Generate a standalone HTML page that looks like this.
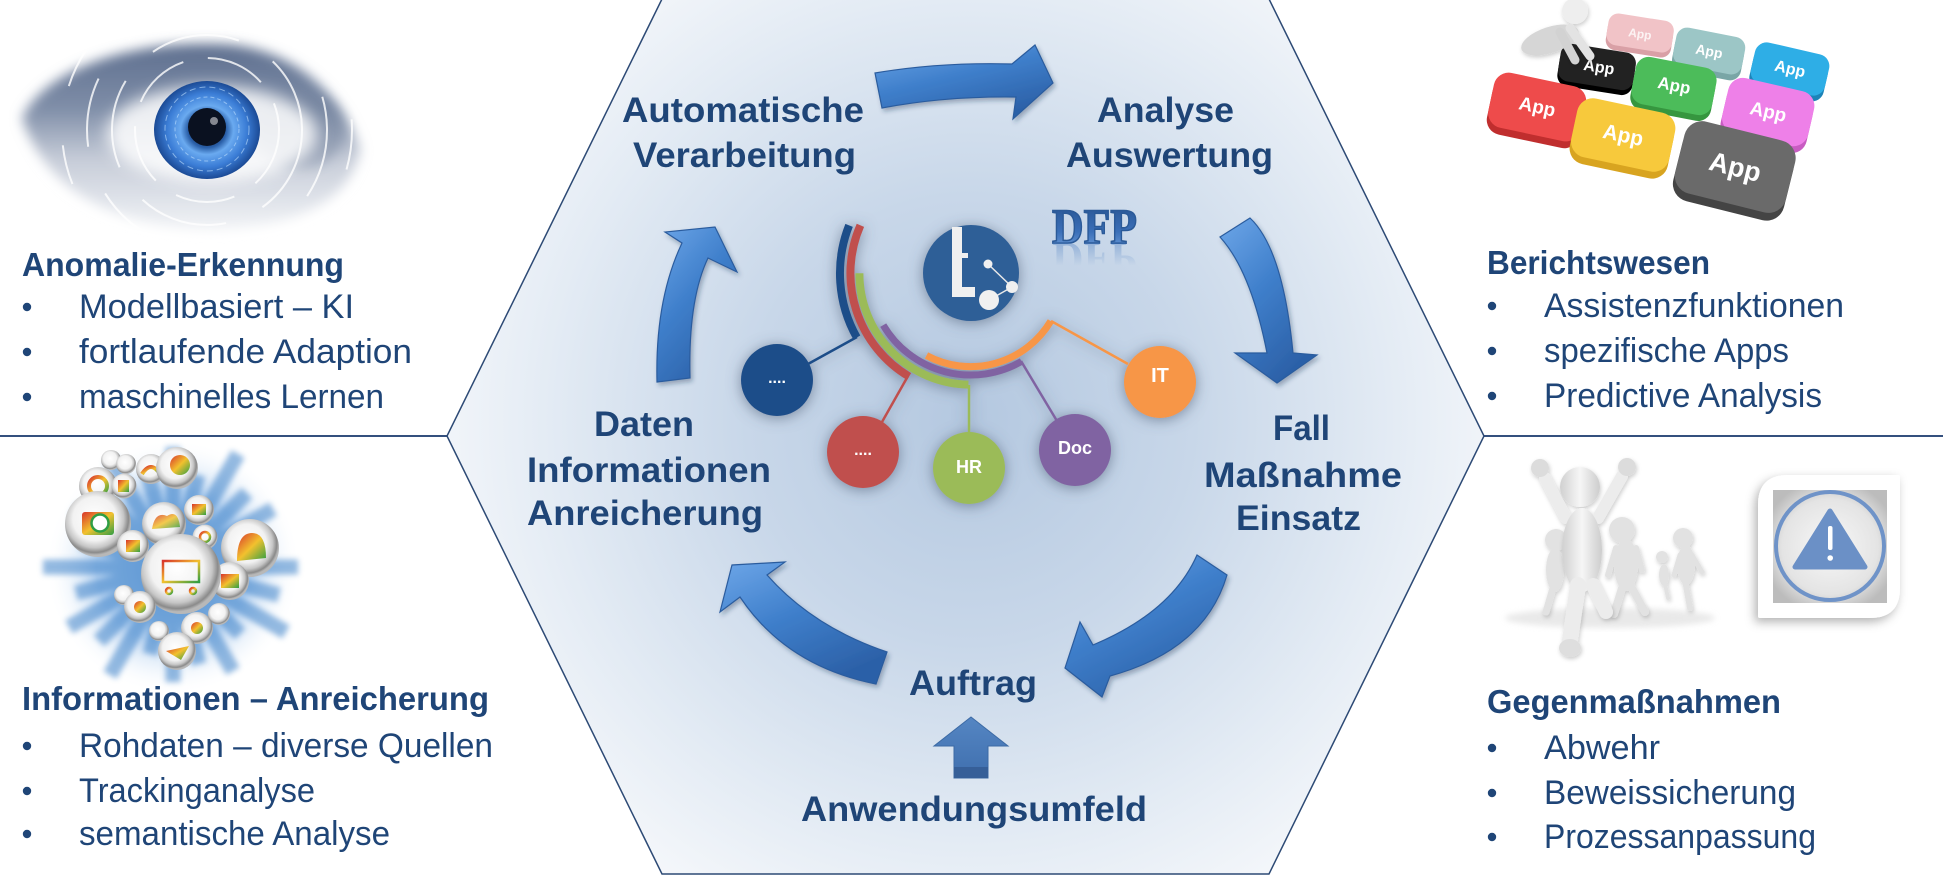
<!DOCTYPE html>
<html><head><meta charset="utf-8">
<style>
html,body{margin:0;padding:0;background:#fff;width:1943px;height:883px;overflow:hidden}
svg{display:block}
.t{font-family:"Liberation Sans",Arial,sans-serif;fill:#1f4577}
.b{font-weight:bold}
.w{font-family:"Liberation Sans",Arial,sans-serif;fill:#fff;font-weight:bold}
</style></head><body>
<svg width="1943" height="883" viewBox="0 0 1943 883" xmlns="http://www.w3.org/2000/svg">
<defs>
 <radialGradient id="hexg" cx="970" cy="420" r="560" gradientUnits="userSpaceOnUse">
  <stop offset="0" stop-color="#b4c8e0"/>
  <stop offset="0.4" stop-color="#c8d7e9"/>
  <stop offset="0.75" stop-color="#e3ebf4"/>
  <stop offset="1" stop-color="#f6f8fb"/>
 </radialGradient>
 <linearGradient id="ag" x1="0" y1="0" x2="0.6" y2="1">
  <stop offset="0" stop-color="#6da6e8"/>
  <stop offset="0.5" stop-color="#3f7fcb"/>
  <stop offset="1" stop-color="#2c61a8"/>
 </linearGradient>
 <linearGradient id="upg" x1="0" y1="0" x2="0" y2="1">
  <stop offset="0" stop-color="#5586c3"/>
  <stop offset="1" stop-color="#3f6fae"/>
 </linearGradient>
 <linearGradient id="dfpg" x1="0" y1="0" x2="0" y2="1">
  <stop offset="0" stop-color="#244f8c"/>
  <stop offset="0.6" stop-color="#3a6fb8"/>
  <stop offset="1" stop-color="#78a6e0"/>
 </linearGradient>
 <linearGradient id="dfpr" x1="0" y1="0" x2="0" y2="1">
  <stop offset="0" stop-color="#3e74bd" stop-opacity="0"/>
  <stop offset="0.4" stop-color="#3e74bd" stop-opacity="0"/>
  <stop offset="1" stop-color="#3e74bd" stop-opacity="0.55"/>
 </linearGradient>
 <linearGradient id="skin" x1="0" y1="0" x2="0" y2="1">
  <stop offset="0" stop-color="#5d6e8e"/>
  <stop offset="0.35" stop-color="#7f8ea8"/>
  <stop offset="0.62" stop-color="#c6ccd8"/>
  <stop offset="1" stop-color="#f1f3f6"/>
 </linearGradient>
 <radialGradient id="iris" cx="0.5" cy="0.5" r="0.5">
  <stop offset="0" stop-color="#0a1222"/>
  <stop offset="0.36" stop-color="#2a5fa8"/>
  <stop offset="0.5" stop-color="#6aaaf0"/>
  <stop offset="0.75" stop-color="#3b7dd6"/>
  <stop offset="1" stop-color="#1b4a95"/>
 </radialGradient>
 <radialGradient id="bub" cx="0.45" cy="0.42" r="0.55">
  <stop offset="0" stop-color="#ffffff"/>
  <stop offset="0.6" stop-color="#f2f2f2"/>
  <stop offset="0.8" stop-color="#c6c6c6"/>
  <stop offset="0.93" stop-color="#8a8a8a"/>
  <stop offset="1" stop-color="#b8b8b8"/>
 </radialGradient>
 <linearGradient id="rb" x1="0" y1="0" x2="1" y2="1">
  <stop offset="0" stop-color="#d8342c"/>
  <stop offset="0.5" stop-color="#f2c12e"/>
  <stop offset="1" stop-color="#2f9e44"/>
 </linearGradient>
 <radialGradient id="burst" cx="0.5" cy="0.5" r="0.5">
  <stop offset="0" stop-color="#7fb0e2" stop-opacity="0.95"/>
  <stop offset="0.6" stop-color="#9fc4ec" stop-opacity="0.7"/>
  <stop offset="1" stop-color="#ffffff" stop-opacity="0"/>
 </radialGradient>
 <radialGradient id="wsq" cx="0.5" cy="0.5" r="0.6">
  <stop offset="0" stop-color="#f8f8f8"/>
  <stop offset="0.7" stop-color="#e4e4e4"/>
  <stop offset="1" stop-color="#bcbcbc"/>
 </radialGradient>
 <linearGradient id="fig" x1="0" y1="0" x2="1" y2="0">
  <stop offset="0" stop-color="#d0d0d0"/>
  <stop offset="0.5" stop-color="#f6f6f6"/>
  <stop offset="1" stop-color="#cdcdcd"/>
 </linearGradient>
 <filter id="ash" x="-20%" y="-20%" width="140%" height="140%">
  <feDropShadow dx="2" dy="3" stdDeviation="2.5" flood-color="#1d3557" flood-opacity="0.35"/>
 </filter>
 <filter id="glow" x="-40%" y="-40%" width="180%" height="180%">
  <feDropShadow dx="0" dy="2" stdDeviation="7" flood-color="#4a5870" flood-opacity="0.6"/>
 </filter>
 <filter id="b3" x="-20%" y="-20%" width="140%" height="140%"><feGaussianBlur stdDeviation="3"/></filter>
 <filter id="b6" x="-20%" y="-20%" width="140%" height="140%"><feGaussianBlur stdDeviation="6"/></filter>
 <filter id="b8" x="-30%" y="-30%" width="160%" height="160%"><feGaussianBlur stdDeviation="8"/></filter>
 <filter id="wsh" x="-30%" y="-30%" width="160%" height="160%">
  <feDropShadow dx="-3" dy="4" stdDeviation="5" flood-color="#000" flood-opacity="0.3"/>
 </filter>
 <filter id="fsh" x="-30%" y="-30%" width="160%" height="160%">
  <feDropShadow dx="1" dy="2" stdDeviation="2" flood-color="#000" flood-opacity="0.2"/>
 </filter>
</defs>

<!-- horizontal divider lines -->
<line x1="0" y1="436" x2="448" y2="436" stroke="#34507e" stroke-width="2"/>
<line x1="1484" y1="436" x2="1943" y2="436" stroke="#34507e" stroke-width="2"/>

<!-- hexagon -->
<polygon points="662,-1 1269,-1 1484,436 1269,874 662,874 447,436" fill="url(#hexg)" stroke="#2d4a75" stroke-width="1.5"/>

<!-- ============ EYE IMAGE ============ -->
<g>
 <path d="M 22 118 C 45 68, 135 40, 222 44 C 292 48, 342 92, 360 150 C 350 200, 300 226, 218 229 C 128 231, 48 198, 22 118 Z" fill="url(#skin)" filter="url(#b6)"/>
 <ellipse cx="300" cy="130" rx="45" ry="38" fill="#6f7f9a" opacity="0.45" filter="url(#b6)"/>
 <ellipse cx="212" cy="134" rx="105" ry="48" fill="#ffffff" opacity="0.85" filter="url(#b8)"/>
 <g fill="none" stroke="#ffffff" stroke-width="2" opacity="0.8">
  <circle cx="207" cy="130" r="72" stroke-dasharray="60 25"/>
  <circle cx="207" cy="130" r="95" stroke-dasharray="90 40"/>
  <circle cx="207" cy="130" r="120" stroke-dasharray="70 50"/>
  <circle cx="207" cy="130" r="145" stroke-dasharray="40 60"/>
 </g>
 <ellipse cx="207" cy="130" rx="53" ry="49" fill="url(#iris)"/>
 <g stroke="#bfe0ff" stroke-width="1" opacity="0.6" fill="none">
  <circle cx="207" cy="129" r="32" stroke-dasharray="4 3"/>
  <circle cx="207" cy="129" r="42" stroke-dasharray="6 4"/>
 </g>
 <circle cx="207" cy="127" r="19" fill="#0a1120"/>
 <circle cx="214" cy="121" r="4" fill="#ffffff" opacity="0.5"/>
</g>

<!-- ============ BUBBLES IMAGE ============ -->
<g>
 <circle cx="173" cy="567" r="128" fill="url(#burst)"/>
 <g stroke="#3a80c8" stroke-width="15" opacity="0.55" filter="url(#b3)">
  <line x1="173" y1="567" x2="298" y2="567"/><line x1="173" y1="567" x2="279" y2="595"/>
  <line x1="173" y1="567" x2="286" y2="632"/><line x1="173" y1="567" x2="240" y2="634"/>
  <line x1="173" y1="567" x2="233" y2="671"/><line x1="173" y1="567" x2="199" y2="664"/>
  <line x1="173" y1="567" x2="173" y2="682"/><line x1="173" y1="567" x2="150" y2="654"/>
  <line x1="173" y1="567" x2="110" y2="675"/><line x1="173" y1="567" x2="99" y2="641"/>
  <line x1="173" y1="567" x2="69" y2="627"/><line x1="173" y1="567" x2="76" y2="593"/>
  <line x1="173" y1="567" x2="43" y2="567"/><line x1="173" y1="567" x2="81" y2="542"/>
  <line x1="173" y1="567" x2="73" y2="509"/><line x1="173" y1="567" x2="95" y2="489"/>
  <line x1="173" y1="567" x2="110" y2="459"/><line x1="173" y1="567" x2="147" y2="470"/>
  <line x1="173" y1="567" x2="173" y2="447"/><line x1="173" y1="567" x2="198" y2="475"/>
  <line x1="173" y1="567" x2="238" y2="454"/><line x1="173" y1="567" x2="247" y2="493"/>
  <line x1="173" y1="567" x2="273" y2="509"/><line x1="173" y1="567" x2="270" y2="541"/>
 </g>
 <g>
  <circle cx="111" cy="460" r="10" fill="url(#bub)"/>
  <circle cx="126" cy="464" r="10" fill="url(#bub)"/>
  <circle cx="98" cy="486" r="19" fill="url(#bub)"/><circle cx="98" cy="486" r="9" fill="none" stroke="url(#rb)" stroke-width="4"/>
  <circle cx="124" cy="486" r="12.5" fill="url(#bub)"/><rect x="118" y="480" width="11" height="12" fill="url(#rb)"/>
  <circle cx="151" cy="469" r="15" fill="url(#bub)"/><path d="M142 474 Q151 460 160 474" fill="none" stroke="url(#rb)" stroke-width="4"/>
  <circle cx="177" cy="468" r="21" fill="url(#bub)"/><circle cx="180" cy="465" r="10" fill="url(#rb)"/>
  <circle cx="199" cy="510" r="15" fill="url(#bub)"/><rect x="192" y="504" width="14" height="11" fill="url(#rb)"/>
  <circle cx="205" cy="537" r="12.5" fill="url(#bub)"/><circle cx="205" cy="537" r="5" fill="none" stroke="url(#rb)" stroke-width="2.5"/>
  <circle cx="164" cy="524" r="22" fill="url(#bub)"/><path d="M152 529 Q155 511 167 516 Q178 509 180 527 Z" fill="url(#rb)" opacity="0.85"/>
  <circle cx="98" cy="524" r="33" fill="url(#bub)"/><rect x="82" y="512" width="32" height="23" rx="3" fill="url(#rb)"/><circle cx="100" cy="523" r="8.5" fill="#fff" stroke="#2f9e44" stroke-width="2.5"/>
  <circle cx="133" cy="546" r="16" fill="url(#bub)"/><rect x="126" y="540" width="14" height="12" fill="url(#rb)"/>
  <circle cx="250" cy="548" r="29" fill="url(#bub)"/><path d="M237 561 Q237 533 252 533 Q266 533 266 558 Z" fill="url(#rb)"/>
  <circle cx="230" cy="581" r="19" fill="url(#bub)"/><rect x="221" y="574" width="18" height="14" fill="url(#rb)"/>
  <circle cx="181" cy="574" r="40" fill="url(#bub)"/>
  <g stroke="url(#rb)" stroke-width="2.5" fill="none"><rect x="163" y="561" width="36" height="21"/><line x1="175" y1="561" x2="175" y2="582"/><line x1="187" y1="561" x2="187" y2="582"/><line x1="163" y1="571" x2="199" y2="571"/><circle cx="169" cy="591" r="3"/><circle cx="193" cy="591" r="3"/></g>
  <circle cx="124" cy="595" r="10" fill="url(#bub)"/>
  <circle cx="140" cy="607" r="16" fill="url(#bub)"/><circle cx="140" cy="607" r="6" fill="url(#rb)"/>
  <circle cx="197" cy="628" r="16" fill="url(#bub)"/><circle cx="197" cy="628" r="6" fill="url(#rb)"/>
  <circle cx="159" cy="631" r="10" fill="url(#bub)"/>
  <circle cx="177" cy="651" r="19" fill="url(#bub)"/><path d="M166 651 L189 646 L181 660 Z" fill="url(#rb)"/>
  <circle cx="219" cy="614" r="11" fill="url(#bub)"/>
 </g>
</g>

<!-- ============ APPS IMAGE ============ -->
<g>
 <g transform="translate(1640,34) rotate(9)"><rect x="-33" y="-12" width="66" height="32" rx="10" fill="#d9a0a6"/><rect x="-33" y="-17" width="66" height="32" rx="10" fill="#f1c3c7"/><text x="0" y="4" text-anchor="middle" class="w" font-size="12" opacity="0.8">App</text></g>
 <g transform="translate(1709,52) rotate(11)"><rect x="-35" y="-14" width="70" height="38" rx="11" fill="#79a6a6"/><rect x="-35" y="-20" width="70" height="38" rx="11" fill="#9cc6c6"/><text x="0" y="4" text-anchor="middle" class="w" font-size="14">App</text></g>
 <g transform="translate(1790,69) rotate(13)"><rect x="-38" y="-15" width="76" height="42" rx="12" fill="#1d84b8"/><rect x="-38" y="-21" width="76" height="42" rx="12" fill="#2eaee6"/><text x="0" y="5" text-anchor="middle" class="w" font-size="16">App</text></g>
 <g transform="translate(1597,67) rotate(9)"><rect x="-38" y="-14" width="76" height="38" rx="11" fill="#000"/><rect x="-38" y="-19" width="76" height="38" rx="11" fill="#222"/><text x="2" y="5" text-anchor="middle" class="w" font-size="16">App</text></g>
 <g transform="translate(1674,86) rotate(11)"><rect x="-41" y="-18" width="82" height="48" rx="13" fill="#36963f"/><rect x="-41" y="-24" width="82" height="48" rx="13" fill="#4cbc5a"/><text x="0" y="5" text-anchor="middle" class="w" font-size="17">App</text></g>
 <g transform="translate(1537,108) rotate(12)"><rect x="-47" y="-22" width="94" height="56" rx="15" fill="#c02e2e"/><rect x="-47" y="-29" width="94" height="56" rx="15" fill="#ee4b4b"/><text x="0" y="5" text-anchor="middle" class="w" font-size="19">App</text></g>
 <g transform="translate(1768,113) rotate(13)"><rect x="-44" y="-22" width="88" height="56" rx="15" fill="#c85cc2"/><rect x="-44" y="-29" width="88" height="56" rx="15" fill="#ee80e8"/><text x="0" y="5" text-anchor="middle" class="w" font-size="19">App</text></g>
 <g transform="translate(1623,136) rotate(12)"><rect x="-50" y="-24" width="100" height="60" rx="16" fill="#d8a420"/><rect x="-50" y="-31" width="100" height="60" rx="16" fill="#f7c93c"/><text x="0" y="6" text-anchor="middle" class="w" font-size="21">App</text></g>
 <g transform="translate(1735,168) rotate(14)"><rect x="-57" y="-30" width="114" height="74" rx="18" fill="#444"/><rect x="-57" y="-38" width="114" height="74" rx="18" fill="#6a6a6a"/><text x="0" y="8" text-anchor="middle" class="w" font-size="27">App</text></g>
 <!-- kneeling figure -->
 <g filter="url(#fsh)">
  <ellipse cx="1550" cy="40" rx="30" ry="13" transform="rotate(-18 1550 40)" fill="#d6d6d6"/>
  <line x1="1570" y1="28" x2="1590" y2="56" stroke="#e3e3e3" stroke-width="9" stroke-linecap="round"/>
  <line x1="1560" y1="32" x2="1575" y2="60" stroke="#d2d2d2" stroke-width="9" stroke-linecap="round"/>
  <circle cx="1575" cy="11" r="13" fill="#eeeeee"/>
 </g>
</g>

<!-- ============ RUNNERS + WARNING ============ -->
<g>
 <ellipse cx="1610" cy="618" rx="105" ry="10" fill="#d8d8d8" opacity="0.55" filter="url(#b3)"/>
 <g fill="#e2e2e2" stroke="#e2e2e2" stroke-linecap="round" filter="url(#fsh)">
  <circle cx="1556" cy="540" r="11" stroke="none"/>
  <ellipse cx="1555" cy="570" rx="9" ry="22" stroke="none"/>
  <line x1="1553" y1="588" x2="1546" y2="612" stroke-width="7"/>
  <circle cx="1662" cy="557" r="6" stroke="none"/>
  <ellipse cx="1664" cy="575" rx="5" ry="11" stroke="none"/>
  <line x1="1665" y1="584" x2="1668" y2="598" stroke-width="4"/>
  <circle cx="1683" cy="538" r="10" stroke="none"/>
  <ellipse cx="1686" cy="565" rx="9" ry="20" stroke="none"/>
  <line x1="1685" y1="580" x2="1690" y2="608" stroke-width="6"/>
  <line x1="1680" y1="555" x2="1674" y2="575" stroke-width="5"/>
  <line x1="1692" y1="555" x2="1702" y2="572" stroke-width="5"/>
  <circle cx="1622" cy="530" r="13" stroke="none"/>
  <ellipse cx="1626" cy="565" rx="12" ry="26" stroke="none"/>
  <line x1="1622" y1="588" x2="1614" y2="614" stroke-width="8"/>
  <line x1="1632" y1="588" x2="1645" y2="612" stroke-width="8"/>
  <line x1="1616" y1="548" x2="1608" y2="575" stroke-width="6"/>
  <line x1="1636" y1="548" x2="1642" y2="570" stroke-width="6"/>
 </g>
 <g fill="#efefef" stroke="#ececec" stroke-linecap="round" filter="url(#fsh)">
  <line x1="1566" y1="518" x2="1545" y2="478" stroke-width="12"/>
  <line x1="1598" y1="518" x2="1622" y2="476" stroke-width="12"/>
  <circle cx="1540" cy="468" r="9" stroke="none" fill="#dcdcdc"/>
  <circle cx="1627" cy="467" r="9" stroke="none" fill="#dcdcdc"/>
  <ellipse cx="1582" cy="550" rx="20" ry="42" stroke="none" fill="url(#fig)"/>
  <line x1="1578" y1="585" x2="1570" y2="640" stroke-width="16"/>
  <line x1="1593" y1="585" x2="1606" y2="612" stroke-width="14"/>
  <ellipse cx="1570" cy="648" rx="11" ry="9" stroke="none" fill="#dedede"/>
  <circle cx="1580" cy="487" r="20" stroke="none" fill="url(#fig)"/>
 </g>
 <path d="M 1788 475 H 1898 Q 1900 475 1900 477 V 588 Q 1900 618 1870 618 H 1760 Q 1758 618 1758 616 V 505 Q 1758 475 1788 475 Z" fill="#ffffff" filter="url(#wsh)"/>
 <rect x="1773" y="490" width="114" height="113" fill="url(#wsq)"/>
 <circle cx="1830" cy="546" r="54" fill="none" stroke="#6f93c8" stroke-width="4"/>
 <path d="M 1830 511 L 1865 567 L 1795 567 Z" fill="#6b90c6" stroke="#6b90c6" stroke-width="5" stroke-linejoin="round"/>
 <rect x="1828" y="526" width="4.5" height="24" rx="2" fill="#fff"/>
 <circle cx="1830.2" cy="558" r="2.8" fill="#fff"/>
</g>

<!-- ============ SIDE TEXT ============ -->
<g>
 <text x="22" y="276" class="t b" font-size="33" textLength="322" lengthAdjust="spacingAndGlyphs">Anomalie-Erkennung</text>
 <text x="79" y="318" class="t" font-size="34" textLength="275" lengthAdjust="spacingAndGlyphs">Modellbasiert – KI</text>
 <text x="79" y="363" class="t" font-size="34" textLength="333" lengthAdjust="spacingAndGlyphs">fortlaufende Adaption</text>
 <text x="79" y="408" class="t" font-size="34" textLength="305" lengthAdjust="spacingAndGlyphs">maschinelles Lernen</text>

 <text x="22" y="710" class="t b" font-size="33" textLength="467" lengthAdjust="spacingAndGlyphs">Informationen – Anreicherung</text>
 <text x="79" y="757" class="t" font-size="34" textLength="414" lengthAdjust="spacingAndGlyphs">Rohdaten – diverse Quellen</text>
 <text x="79" y="802" class="t" font-size="34" textLength="236" lengthAdjust="spacingAndGlyphs">Trackinganalyse</text>
 <text x="79" y="845" class="t" font-size="34" textLength="311" lengthAdjust="spacingAndGlyphs">semantische Analyse</text>

 <text x="1487" y="274" class="t b" font-size="33" textLength="223" lengthAdjust="spacingAndGlyphs">Berichtswesen</text>
 <text x="1544" y="317" class="t" font-size="34" textLength="300" lengthAdjust="spacingAndGlyphs">Assistenzfunktionen</text>
 <text x="1544" y="362" class="t" font-size="34" textLength="245" lengthAdjust="spacingAndGlyphs">spezifische Apps</text>
 <text x="1544" y="407" class="t" font-size="34" textLength="278" lengthAdjust="spacingAndGlyphs">Predictive Analysis</text>

 <text x="1487" y="713" class="t b" font-size="33" textLength="294" lengthAdjust="spacingAndGlyphs">Gegenmaßnahmen</text>
 <text x="1544" y="759" class="t" font-size="34" textLength="116" lengthAdjust="spacingAndGlyphs">Abwehr</text>
 <text x="1544" y="804" class="t" font-size="34" textLength="252" lengthAdjust="spacingAndGlyphs">Beweissicherung</text>
 <text x="1544" y="848" class="t" font-size="34" textLength="272" lengthAdjust="spacingAndGlyphs">Prozessanpassung</text>
</g>
<g fill="#1f4577">
 <circle cx="27" cy="307" r="4.2"/><circle cx="27" cy="352" r="4.2"/><circle cx="27" cy="397" r="4.2"/>
 <circle cx="27" cy="746" r="4.2"/><circle cx="27" cy="791" r="4.2"/><circle cx="27" cy="834" r="4.2"/>
 <circle cx="1492" cy="306" r="4.2"/><circle cx="1492" cy="351" r="4.2"/><circle cx="1492" cy="396" r="4.2"/>
 <circle cx="1492" cy="748" r="4.2"/><circle cx="1492" cy="793" r="4.2"/><circle cx="1492" cy="837" r="4.2"/>
</g>

<!-- ============ CYCLE ARROWS ============ -->
<g fill="url(#ag)" stroke="#2b5c9e" stroke-width="1.2" filter="url(#ash)">
 <path d="M 875 73 Q 940 62 1012 64 L 1035 45 L 1053 83 L 1013 119 L 1016 97 Q 945 96 882 108 Z"/>
 <path d="M 1220 237 L 1250 218 Q 1283 249 1293 353 L 1317 355 L 1277 383 L 1235 353 L 1267 353 Q 1251 271 1220 237 Z"/>
 <path d="M 1197 555 L 1227 575 Q 1205 650 1110 676 L 1102 697 L 1065 668 L 1080 622 L 1093 645 Q 1172 612 1197 555 Z"/>
 <path d="M 887 652 L 876 684 Q 786 666 740 597 L 720 612 L 732 565 L 785 562 L 767 575 Q 813 627 887 652 Z"/>
 <path d="M 657 382 L 690 378 Q 688 300 708 258 L 737 272 L 715 227 L 665 232 L 682 243 Q 655 300 657 382 Z"/>
</g>
<g>
 <path d="M 971 717 L 1008 746 L 988 746 L 988 778 L 954 778 L 954 746 L 934 746 Z" fill="url(#upg)" stroke="#3c6aa5" stroke-width="1"/>
 <rect x="954" y="767" width="34" height="11" fill="#365f98"/>
</g>

<!-- ============ CENTER TEXT ============ -->
<g>
 <text x="622" y="122" class="t b" font-size="35" textLength="242" lengthAdjust="spacingAndGlyphs">Automatische</text>
 <text x="633" y="167" class="t b" font-size="35" textLength="223" lengthAdjust="spacingAndGlyphs">Verarbeitung</text>
 <text x="1097" y="122" class="t b" font-size="35" textLength="137" lengthAdjust="spacingAndGlyphs">Analyse</text>
 <text x="1066" y="167" class="t b" font-size="35" textLength="207" lengthAdjust="spacingAndGlyphs">Auswertung</text>
 <text x="594" y="436" class="t b" font-size="35" textLength="100" lengthAdjust="spacingAndGlyphs">Daten</text>
 <text x="527" y="482" class="t b" font-size="35" textLength="244" lengthAdjust="spacingAndGlyphs">Informationen</text>
 <text x="527" y="525" class="t b" font-size="35" textLength="236" lengthAdjust="spacingAndGlyphs">Anreicherung</text>
 <text x="1273" y="440" class="t b" font-size="35" textLength="57" lengthAdjust="spacingAndGlyphs">Fall</text>
 <text x="1204" y="487" class="t b" font-size="35" textLength="198" lengthAdjust="spacingAndGlyphs">Maßnahme</text>
 <text x="1236" y="530" class="t b" font-size="35" textLength="125" lengthAdjust="spacingAndGlyphs">Einsatz</text>
 <text x="909" y="695" class="t b" font-size="35" textLength="128" lengthAdjust="spacingAndGlyphs">Auftrag</text>
 <text x="801" y="821" class="t b" font-size="35" textLength="346" lengthAdjust="spacingAndGlyphs">Anwendungsumfeld</text>
</g>

<!-- ============ CENTER GRAPHIC ============ -->
<g filter="url(#glow)">
 <g fill="none" stroke-linecap="butt">
  <path d="M 849.1 225.4 A 130.7 130.7 0 0 0 856.8 337.5" stroke="#1f4e89" stroke-width="8"/>
  <path d="M 860.4 225.3 A 120.3 120.3 0 0 0 909.1 376.6" stroke="#c0504d" stroke-width="8"/>
  <path d="M 859.4 273.3 A 111.3 111.3 0 0 0 968.4 384.6" stroke="#9bbb59" stroke-width="8"/>
  <path d="M 883.2 325.1 A 101.7 101.7 0 0 0 1021.6 361.4" stroke="#8064a2" stroke-width="7"/>
  <path d="M 926.5 355.5 A 93.3 93.3 0 0 0 1050.8 321.1" stroke="#f79646" stroke-width="7"/>
 </g>
 <g stroke-width="2.5">
  <line x1="857" y1="337" x2="808" y2="364" stroke="#1f4e89"/>
  <line x1="908" y1="376" x2="882" y2="422" stroke="#c0504d"/>
  <line x1="969" y1="385" x2="969" y2="434" stroke="#9bbb59"/>
  <line x1="1021" y1="361" x2="1057" y2="421" stroke="#8064a2"/>
  <line x1="1051" y1="321" x2="1128" y2="364" stroke="#f79646"/>
 </g>
 <circle cx="777" cy="380" r="36" fill="#1f4e89"/>
 <circle cx="863" cy="452" r="36" fill="#c0504d"/>
 <circle cx="969" cy="468" r="36" fill="#9bbb59"/>
 <circle cx="1075" cy="450" r="36" fill="#8064a2"/>
 <circle cx="1160" cy="382" r="36" fill="#f79646"/>
 <circle cx="971" cy="273" r="48" fill="#2f5f97"/>
</g>
<g>
 <rect x="952" y="227" width="10" height="70" fill="#f0f0f0"/>
 <rect x="962" y="287" width="13" height="10" fill="#f0f0f0"/>
 <rect x="962" y="253" width="6" height="5" fill="#f0f0f0"/>
 <line x1="988" y1="264" x2="1012" y2="287" stroke="#e8e8e8" stroke-width="1.5"/>
 <line x1="989" y1="300" x2="1012" y2="287" stroke="#e8e8e8" stroke-width="1.5"/>
 <circle cx="988" cy="264" r="4.5" fill="#f0f0f0"/>
 <circle cx="1012" cy="287" r="6" fill="#f0f0f0"/>
 <circle cx="989" cy="300" r="10" fill="#f0f0f0"/>
</g>
<g text-anchor="middle">
 <text x="777" y="383" class="w" font-size="16">....</text>
 <text x="863" y="455" class="w" font-size="16">....</text>
 <text x="969" y="473" class="w" font-size="18">HR</text>
 <text x="1075" y="454" class="w" font-size="18">Doc</text>
 <text x="1160" y="382" class="w" font-size="20">IT</text>
</g>

<!-- DFP -->
<text x="1052" y="243" font-family="Liberation Serif, serif" font-weight="bold" font-size="50" fill="url(#dfpg)" stroke="#2b5a98" stroke-width="1.6" textLength="85" lengthAdjust="spacingAndGlyphs">DFP</text>
<text x="1052" y="243" transform="translate(0,486) scale(1,-1)" font-family="Liberation Serif, serif" font-weight="bold" font-size="50" fill="url(#dfpr)" textLength="85" lengthAdjust="spacingAndGlyphs">DFP</text>

</svg>
</body></html>
